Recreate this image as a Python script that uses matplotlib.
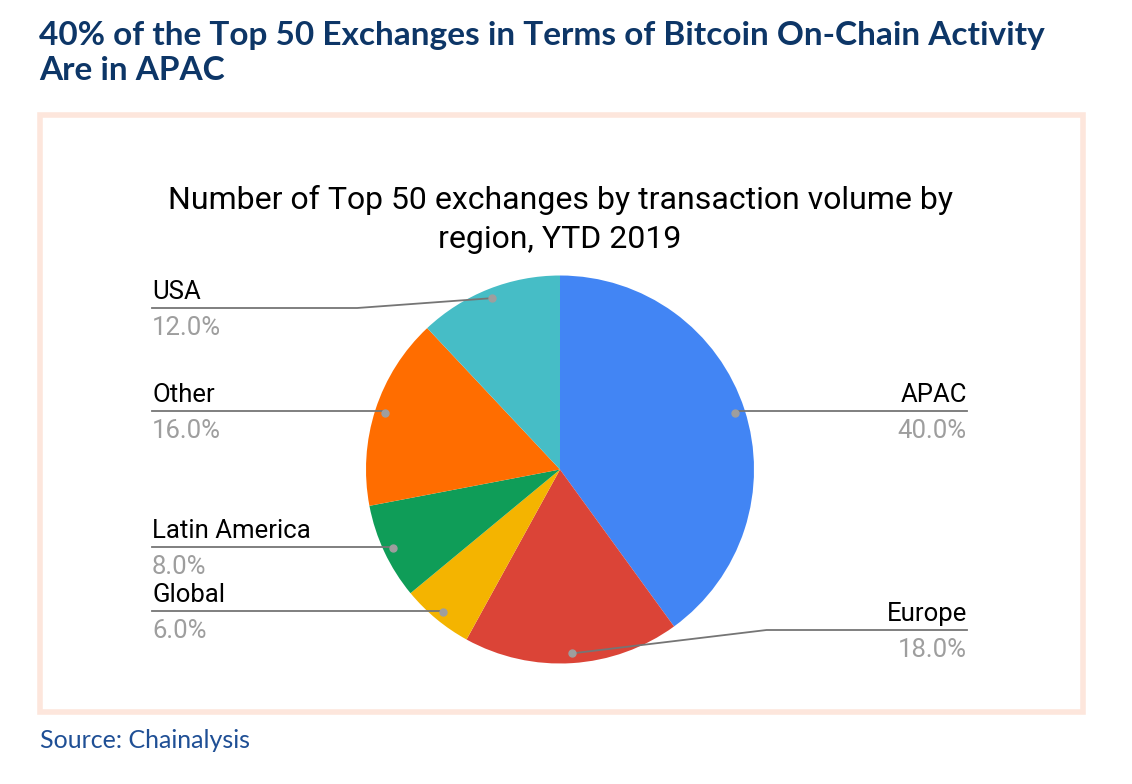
import numpy as np
import matplotlib
matplotlib.use("Agg")
import matplotlib.pyplot as plt
from matplotlib.patches import Rectangle

# Data
regions = ["APAC", "Europe", "Global", "Latin America", "Other", "USA"]
shares = [40.0, 18.0, 6.0, 8.0, 16.0, 12.0]
colors = ["#4285F4", "#DB4437", "#F4B400", "#0F9D58", "#FF6D00", "#46BDC6"]
# label line heights (pixel rows, layout)
label_line_y = [411, 630, 611, 547, 411, 308]

W, H = 1132, 784
fig = plt.figure(figsize=(W / 100, H / 100), dpi=100)
ax = fig.add_axes([0, 0, 1, 1])

def py(y):
    return H - y

cx, cy, R = 560, py(469.5), 194
wedges, _ = ax.pie(shares, colors=colors, startangle=90, counterclock=False,
                   center=(cx, cy), radius=R, frame=True,
                   wedgeprops=dict(linewidth=0))
ax.set_xlim(0, W)
ax.set_ylim(0, H)
ax.set_aspect("equal")
ax.axis("off")

for txt, yy in [("40% of the Top 50 Exchanges in Terms of Bitcoin On-Chain Activity", 35),
                ("Are in APAC", 70)]:
    ax.text(39, py(yy), txt, ha="left", va="center", fontsize=24, fontweight="bold",
            family="Lato", color="#0d3667")

ax.add_patch(Rectangle((40, py(712)), 1043, 597, fill=False,
                       edgecolor="#fde6dc", linewidth=4))

for txt, yy in [("Number of Top 50 exchanges by transaction volume by", 200),
                ("region, YTD 2019", 239)]:
    ax.text(560, py(yy), txt, ha="center", va="center", fontsize=23, family="Roboto",
            color="#000000")

total = sum(shares)
cum = 0
for name, val, ly in zip(regions, shares, label_line_y):
    mid = 90 - 360 * (cum + val / 2) / total
    cum += val
    th = np.deg2rad(mid)
    dx = cx + 0.95 * R * np.cos(th)
    dy = cy + 0.95 * R * np.sin(th)
    right = np.cos(th) > 0
    lyd = py(ly)
    if right:
        elbow = dx + 195 if abs(lyd - dy) > 3 else dx
        xend = 967
        tx, ha = xend, "right"
    else:
        elbow = dx - 135 if abs(lyd - dy) > 3 else dx
        xend = 152
        tx, ha = xend, "left"
    ax.plot([dx, elbow, xend], [dy, lyd, lyd], color="#757575", lw=1.3, zorder=3)
    ax.plot([dx], [dy], "o", color="#9e9e9e", markersize=5, zorder=4)
    ax.text(tx, lyd + 16, name, ha=ha, va="center", fontsize=18.5, family="Roboto",
            color="#000000")
    ax.text(tx, lyd - 20, f"{val:.1f}%", ha=ha, va="center", fontsize=18.5, family="Roboto",
            color="#9e9e9e")

ax.text(40, py(741), "Source: Chainalysis", ha="left", va="center",
        fontsize=18, family="Lato", color="#1f4f95")

fig.savefig("out.png", dpi=100, facecolor="white")
